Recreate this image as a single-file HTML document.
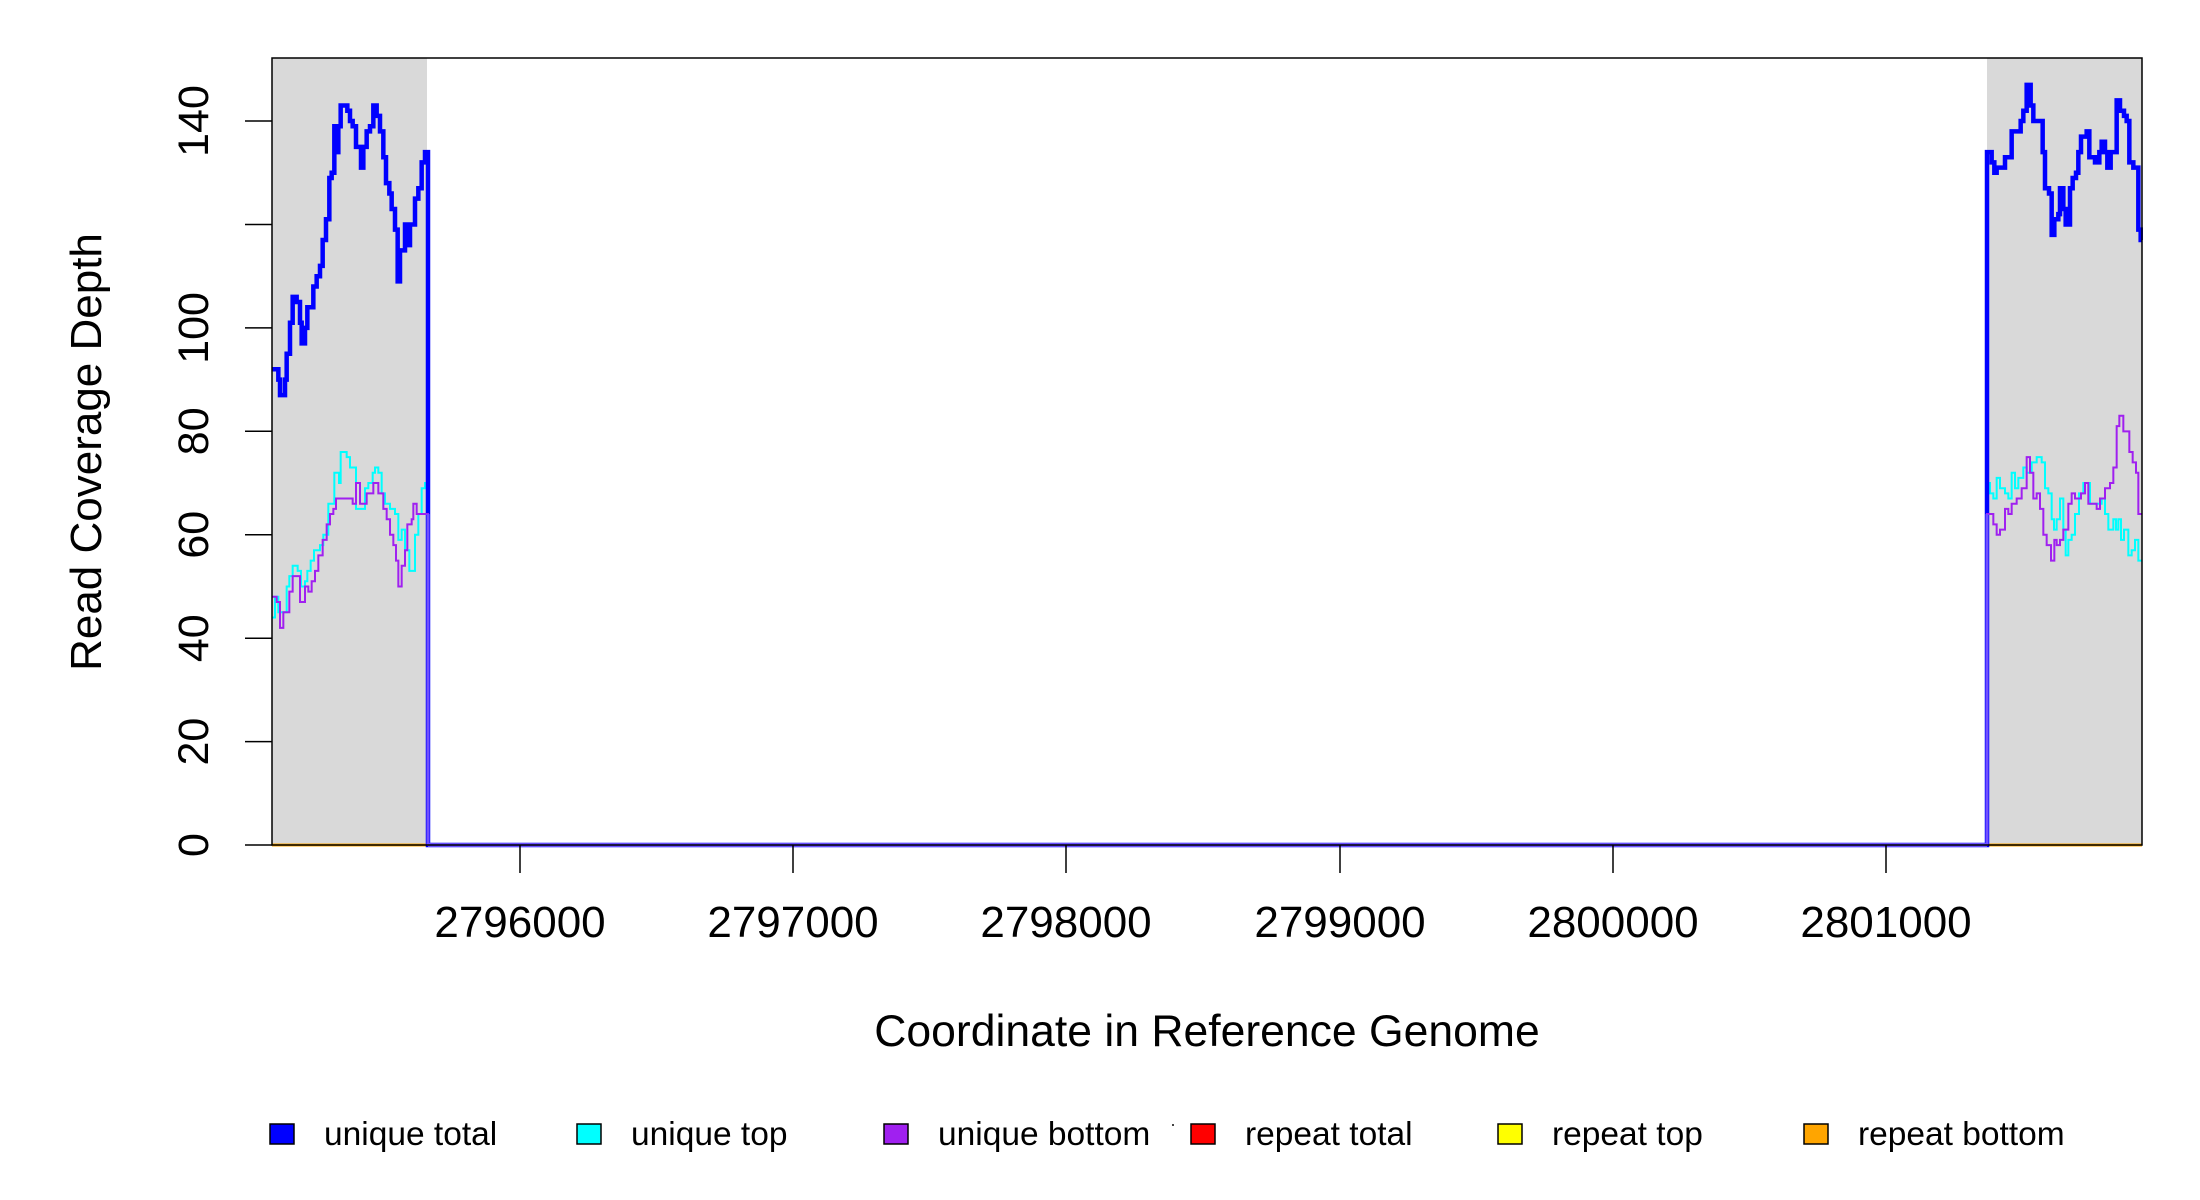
<!DOCTYPE html>
<html><head><meta charset="utf-8"><style>
html,body{margin:0;padding:0;background:#fff;}
svg{display:block;font-family:"Liberation Sans",sans-serif;}
</style></head><body>
<svg id="s" width="2200" height="1200" xmlns="http://www.w3.org/2000/svg">
<rect width="2200" height="1200" fill="#fff"/>
<rect x="272" y="58" width="155" height="787" fill="#d9d9d9"/>
<rect x="1987" y="58" width="155" height="787" fill="#d9d9d9"/>
<g id="lines"></g>
<rect x="272" y="58" width="1870" height="787" fill="none" stroke="#000" stroke-width="1.5"/>
<g stroke="#000" stroke-width="1.5">
<line x1="272" y1="845" x2="245" y2="845"/><line x1="272" y1="741.6" x2="245" y2="741.6"/>
<line x1="272" y1="638.2" x2="245" y2="638.2"/><line x1="272" y1="534.7" x2="245" y2="534.7"/>
<line x1="272" y1="431.3" x2="245" y2="431.3"/><line x1="272" y1="327.9" x2="245" y2="327.9"/>
<line x1="272" y1="224.5" x2="245" y2="224.5"/><line x1="272" y1="121" x2="245" y2="121"/>
<line x1="520" y1="845" x2="520" y2="873"/><line x1="793" y1="845" x2="793" y2="873"/>
<line x1="1066" y1="845" x2="1066" y2="873"/><line x1="1340" y1="845" x2="1340" y2="873"/>
<line x1="1613" y1="845" x2="1613" y2="873"/><line x1="1886" y1="845" x2="1886" y2="873"/>
</g>
<g font-size="43" text-anchor="middle" fill="#000">
<text transform="translate(208,845) rotate(-90)">0</text>
<text transform="translate(208,741.6) rotate(-90)">20</text>
<text transform="translate(208,638.2) rotate(-90)">40</text>
<text transform="translate(208,534.7) rotate(-90)">60</text>
<text transform="translate(208,431.3) rotate(-90)">80</text>
<text transform="translate(208,327.9) rotate(-90)">100</text>
<text transform="translate(208,121) rotate(-90)">140</text>
<g font-size="44">
<text x="520" y="937">2796000</text><text x="793" y="937">2797000</text>
<text x="1066" y="937">2798000</text><text x="1340" y="937">2799000</text>
<text x="1613" y="937">2800000</text><text x="1886" y="937">2801000</text>
</g>
<text x="1207" y="1046" font-size="44.5">Coordinate in Reference Genome</text>
<text transform="translate(101,452) rotate(-90)" font-size="44">Read Coverage Depth</text>
</g>
<g font-size="33.5" fill="#000" stroke="#000" stroke-width="1.5">
<rect x="270" y="1124" width="24" height="20" fill="#0000ff"/><text x="324" y="1145" stroke="none">unique total</text>
<rect x="577" y="1124" width="24" height="20" fill="#00ffff"/><text x="631" y="1145" stroke="none">unique top</text>
<rect x="884" y="1124" width="24" height="20" fill="#a020f0"/><text x="938" y="1145" stroke="none">unique bottom</text>
<rect x="1191" y="1124" width="24" height="20" fill="#ff0000"/><text x="1245" y="1145" stroke="none">repeat total</text>
<rect x="1498" y="1124" width="24" height="20" fill="#ffff00"/><text x="1552" y="1145" stroke="none">repeat top</text>
<rect x="1804" y="1124" width="24" height="20" fill="#ffa500"/><text x="1858" y="1145" stroke="none">repeat bottom</text>
</g>
<rect x="1172" y="1124" width="2" height="2" fill="#444"/>
</svg>
<script>
function Y(v){return 845-v*5.171;}
function path(off,pts,endx){
  var d="";var prev=null;
  for(var i=0;i<pts.length;i+=2){
    var x=off+pts[i]/3,y=Y(pts[i+1]);
    if(prev===null)d+="M"+x+","+y;else d+="H"+x+"V"+y;
    prev=y;
  }
  d+="H"+endx;return d;
}
var BL=[815,92,835,90,840,87,855,90,860,95,870,101,878,106,890,105,900,101,905,97,915,100,922,104,940,108,950,110,960,112,968,117,978,121,988,129,995,130,1003,139,1010,134,1015,139,1022,143,1042,142,1050,140,1058,139,1068,135,1083,131,1090,135,1100,138,1110,139,1120,143,1130,141,1140,138,1150,133,1158,128,1168,126,1175,123,1185,119,1193,109,1200,115,1215,120,1222,116,1230,120,1245,125,1255,127,1265,132,1275,134];
var CL=[815,44,825,48,835,45,860,50,868,52,878,54,893,53,903,50,915,51,922,53,932,55,942,57,960,58,970,60,985,66,1003,72,1017,70,1022,76,1040,75,1050,73,1068,65,1080,65,1095,69,1105,70,1118,72,1125,73,1135,72,1145,68,1155,66,1170,65,1185,64,1195,59,1205,61,1215,57,1228,53,1245,60,1255,64,1265,69,1275,70];
var PL=[815,48,830,47,840,42,850,45,868,49,878,52,900,47,915,50,925,49,935,51,945,53,955,56,968,59,980,62,990,64,1000,65,1008,67,1023,67,1058,66,1068,70,1080,66,1100,68,1120,70,1135,68,1150,65,1160,63,1170,60,1180,58,1188,55,1195,50,1205,54,1215,57,1222,62,1235,63,1240,66,1250,64,1265,64,1275,64];
var BR=[263,134,275,132,283,130,290,131,315,133,335,138,355,138,362,140,370,142,380,147,392,143,400,140,415,140,428,134,435,127,447,126,455,118,463,121,475,122,480,127,490,123,497,120,510,127,518,129,528,130,535,134,543,137,560,138,568,133,585,132,598,134,605,136,615,134,622,131,632,134,650,144,660,142,672,141,680,140,688,132,700,131,712,131,715,119,722,117];
var CR=[263,70,270,68,280,67,290,71,300,69,315,68,325,67,335,72,345,69,355,71,370,73,380,72,395,74,410,75,425,74,435,69,445,68,455,63,462,61,470,63,480,67,490,61,497,56,505,59,515,60,525,64,537,68,550,70,570,66,590,66,605,67,615,64,625,61,640,63,648,61,655,63,663,59,672,61,685,56,695,57,705,59,715,55];
var PR=[263,64,280,62,290,60,300,61,315,65,325,64,335,66,350,67,365,69,380,75,390,72,400,67,410,68,420,65,430,60,440,58,453,55,463,59,470,58,480,59,490,61,505,66,515,68,525,67,535,67,543,68,555,70,565,66,580,66,590,65,600,67,615,69,630,70,640,73,650,81,658,83,670,80,688,76,698,74,708,72,715,64];
var g=document.getElementById("lines"),ns="http://www.w3.org/2000/svg";
function add(d,c,w){var p=document.createElementNS(ns,"path");p.setAttribute("d",d);p.setAttribute("fill","none");p.setAttribute("stroke",c);p.setAttribute("stroke-width",w);g.appendChild(p);}
add("M272,845H2142","#ffa500",3);
add(path(0,CL,428)+"V845H1987V"+Y(70)+path(1900,CR,2142).replace(/^M[^H]*/,""),"#00ffff",2);
add(path(0,BL,428)+"V845H1987V"+Y(134)+path(1900,BR,2142).replace(/^M[^H]*/,""),"#0000ff",4.5);
add(path(0,PL,428)+"V845H1987V"+Y(64)+path(1900,PR,2142).replace(/^M[^H]*/,""),"#a020f0",2);
add("M428,845H1987","#6a50ff",4);
add("M428,845V"+Y(64)+"M1987,845V"+Y(64),"#7050ff",3);
</script>
</body></html>
